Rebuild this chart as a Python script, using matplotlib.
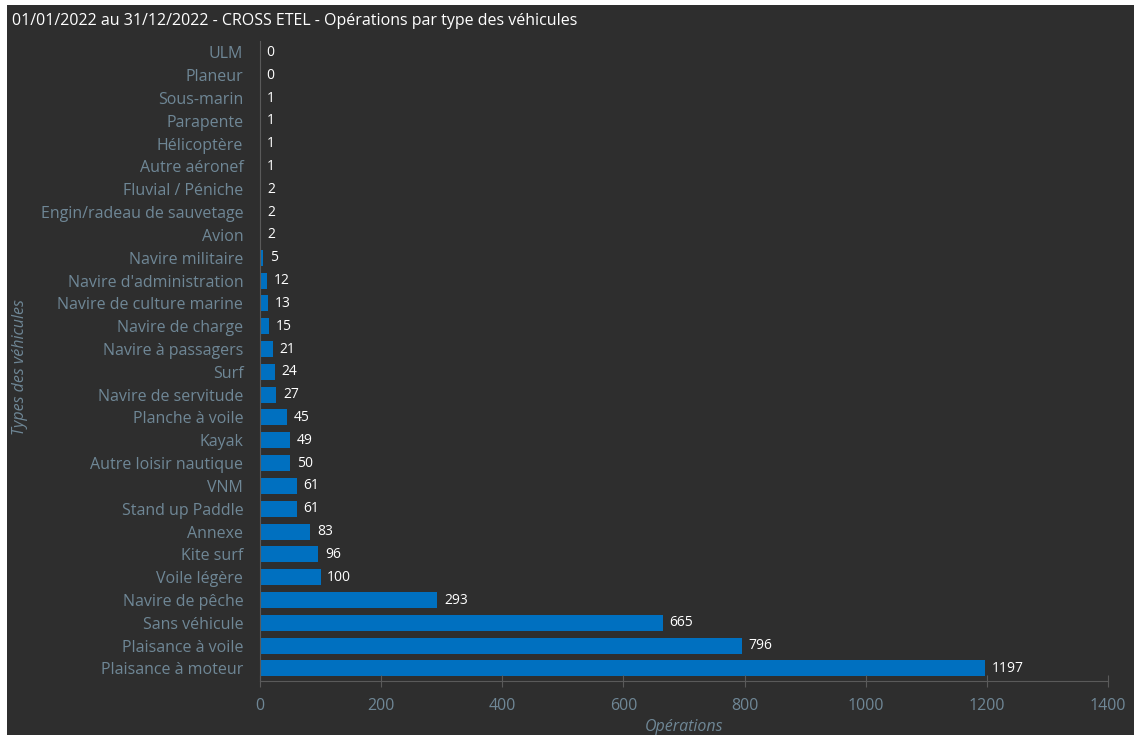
import matplotlib.pyplot as plt
from matplotlib.patches import Rectangle

# types de véhicules, du bas vers le haut
types = ["Plaisance à moteur", "Plaisance à voile", "Sans véhicule", "Navire de pêche",
         "Voile légère", "Kite surf", "Annexe", "Stand up Paddle", "VNM",
         "Autre loisir nautique", "Kayak", "Planche à voile", "Navire de servitude",
         "Surf", "Navire à passagers", "Navire de charge", "Navire de culture marine",
         "Navire d'administration", "Navire militaire", "Avion",
         "Engin/radeau de sauvetage", "Fluvial / Péniche", "Autre aéronef",
         "Hélicoptère", "Parapente", "Sous-marin", "Planeur", "ULM"]
operations = [1197, 796, 665, 293, 100, 96, 83, 61, 61, 50, 49, 45, 27, 24, 21, 15,
              13, 12, 5, 2, 2, 2, 1, 1, 1, 1, 0, 0]
xticks = [0, 200, 400, 600, 800, 1000, 1200, 1400]

bg = '#2e2e2e'
txt = '#6f8796'
fontp = {'family': ['Open Sans', 'DejaVu Sans']}

fig = plt.figure(figsize=(11.34, 7.35), dpi=100)
fig.patch.set_facecolor('white')
fig.add_artist(Rectangle((7/1134, 0), 1, 1 - 5/735, transform=fig.transFigure,
                         facecolor=bg, edgecolor='none', zorder=-10))

ax = fig.add_axes([260/1134, (735-681)/735, (1108-260)/1134, (681-41)/735])
ax.set_facecolor(bg)
ax.barh(range(len(types)), operations, height=0.7, color='#0070c0')
for i, v in enumerate(operations):
    ax.text(v + 11, i, str(v), va='center', ha='left', color='white',
            fontsize=10, **fontp)

ax.set_xlim(0, 1400)
ax.set_ylim(-0.55, len(types) - 0.5)
ax.set_xticks(xticks)
ax.set_xticklabels([str(t) for t in xticks], color=txt, fontsize=11.5, **fontp)
ax.set_yticks(range(len(types)))
ax.set_yticklabels(types, color=txt, fontsize=11.5, **fontp)
ax.tick_params(axis='y', length=0, pad=12)
ax.tick_params(axis='x', length=8, color='#5a5a5a', direction='inout', pad=8)
for s in ['top', 'right']:
    ax.spines[s].set_visible(False)
ax.spines['left'].set_color('#5a5a5a')
ax.spines['bottom'].set_color('#5a5a5a')

ax.set_xlabel('Opérations', color=txt, fontsize=11.5, style='italic', labelpad=4, **fontp)
fig.text(20/1134, 0.5, 'Types des véhicules', rotation=90, va='center', ha='center',
         color=txt, fontsize=11.5, style='italic', **fontp)
fig.text(12/1134, 1 - 21/735, '01/01/2022 au 31/12/2022 - CROSS ETEL - Opérations par type des véhicules',
         color='white', fontsize=11.5, va='center', ha='left', **fontp)

plt.savefig('out.png', facecolor=fig.get_facecolor())
